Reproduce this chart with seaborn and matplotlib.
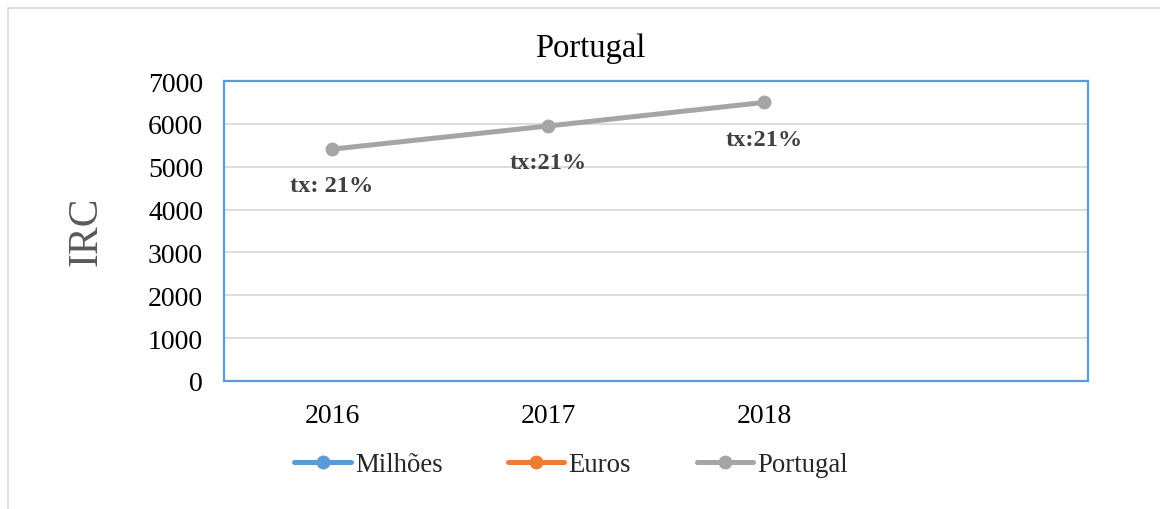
import matplotlib
matplotlib.use("Agg")
import matplotlib.pyplot as plt
from matplotlib.lines import Line2D
from matplotlib.patches import Rectangle
import pandas as pd
import seaborn as sns

# Data
years = ["2016", "2017", "2018", ""]
portugal = [5410, 5950, 6500, None]
rate_labels = ["tx: 21%", "tx:21%", "tx:21%"]
series_names = ["Milhões", "Euros", "Portugal"]
series_colors = ["#5B9BD5", "#ED7D31", "#A5A5A5"]
y_ticks = [0, 1000, 2000, 3000, 4000, 5000, 6000, 7000]

sns.set_theme(style="white")
plt.rcParams["font.family"] = ["Liberation Serif", "DejaVu Serif"]

W, H = 1160, 510
fig = plt.figure(figsize=(W / 100, H / 100), dpi=100)
ax = fig.add_axes([224 / W, 1 - 382 / H, (1088 - 224) / W, (382 - 82) / H])

df = pd.DataFrame({"ano": years, "IRC": portugal})
df["pos"] = range(len(df))
df_pt = df.dropna()

sns.lineplot(data=df_pt, x="pos", y="IRC", ax=ax, color=series_colors[2],
             linewidth=3.6, marker="o", markersize=10, markeredgewidth=0,
             legend=False)

for (_, row), lab in zip(df_pt.iterrows(), rate_labels):
    ax.annotate(lab, (row["pos"], row["IRC"]), xytext=(0, -26.5),
                textcoords="offset points", ha="center", va="center",
                fontsize=17.6, fontweight="bold", color="#404040")

ax.set_xlim(-0.5, len(years) - 0.5)
ax.set_ylim(0, 7000)
ax.set_xticks(range(len(years)))
ax.set_xticklabels(years)
ax.set_yticks(y_ticks)
ax.tick_params(axis="both", length=0, labelsize=20, colors="black")
ax.tick_params(axis="y", pad=15)
ax.tick_params(axis="x", pad=16)
ax.set_xlabel("")
ax.set_ylabel("")
ax.yaxis.grid(True, color="#D9D9D9", linewidth=1.3)
ax.set_axisbelow(True)
for sp in ax.spines.values():
    sp.set_visible(True)
    sp.set_color("#5B9BD5")
    sp.set_linewidth(1.6)

fig.text(86 / W, 1 - 231 / H, "IRC", rotation=90, ha="center", va="center",
         fontsize=30, color="#595959")
fig.text(590 / W, 1 - 49 / H, "Portugal", ha="center", va="center",
         fontsize=23.5, color="black")

handles = [Line2D([0], [0], color=c, linewidth=3.6, marker="o", markersize=10,
                  markeredgewidth=0) for c in series_colors]
fig.legend(handles, series_names, loc="center", ncol=3,
           bbox_to_anchor=(571 / W, 1 - 466 / H), frameon=False,
           fontsize=19.3, handlelength=2.1, handletextpad=0.15,
           columnspacing=2.45)

fig.patches.append(Rectangle((8 / W, -0.1), 1.2, 1.1 - 9 / H,
                             transform=fig.transFigure, fill=False,
                             edgecolor="#D9D9D9", linewidth=1.2))

fig.savefig("out.png", dpi=100)
